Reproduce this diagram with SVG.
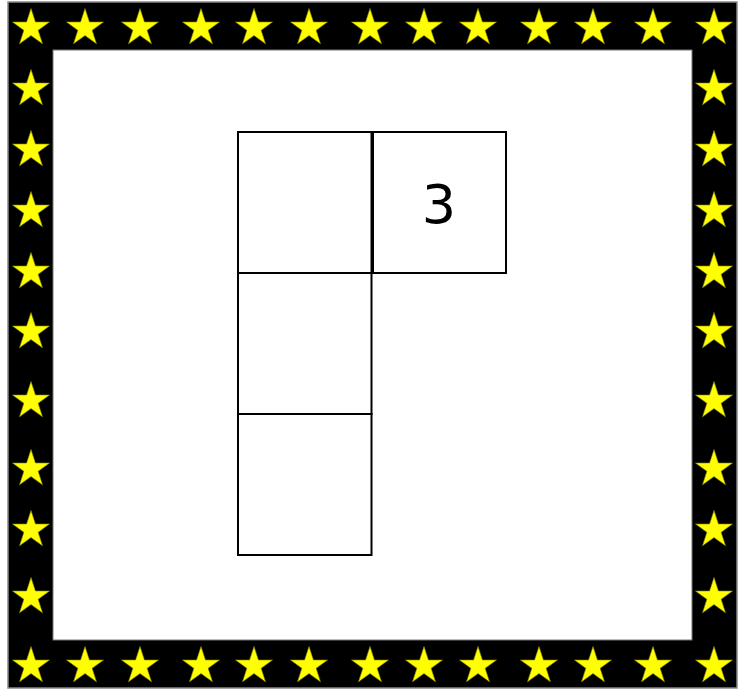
<svg xmlns="http://www.w3.org/2000/svg" xmlns:xlink="http://www.w3.org/1999/xlink" width="748" height="690" viewBox="0 0 748 690">
<style>
.box{fill:#fff;stroke:#000;stroke-width:2}
.num{font-family:"DejaVu Sans",sans-serif;font-size:54px;fill:#000;text-anchor:middle}
.st{fill:#ffff00;stroke:#8a8a00;stroke-width:0.6}
</style>
<defs>
<polygon id="star" class="st" points="0,-19.5 4.4,-6 18.5,-6 7.1,2.3 11.5,15.8 0,7.5 -11.5,15.8 -7.1,2.3 -18.5,-6 -4.4,-6"/>
</defs>
<rect width="748" height="690" fill="#fff"/>
<g id="frame">
<rect x="8" y="2" width="729" height="686" fill="#000" stroke="#888" stroke-width="1.5"/>
<rect x="53" y="50" width="639" height="590" fill="#fff" stroke="#777" stroke-width="1"/>
</g>
<g id="stars">
<use xlink:href="#star" x="31" y="28"/><use xlink:href="#star" x="85" y="28"/><use xlink:href="#star" x="140" y="28"/><use xlink:href="#star" x="201" y="28"/><use xlink:href="#star" x="254" y="28"/><use xlink:href="#star" x="309" y="28"/><use xlink:href="#star" x="370" y="28"/><use xlink:href="#star" x="424" y="28"/><use xlink:href="#star" x="478" y="28"/><use xlink:href="#star" x="539" y="28"/><use xlink:href="#star" x="593" y="28"/><use xlink:href="#star" x="653" y="28"/><use xlink:href="#star" x="714" y="28"/>
<use xlink:href="#star" x="31" y="666"/><use xlink:href="#star" x="85" y="666"/><use xlink:href="#star" x="140" y="666"/><use xlink:href="#star" x="201" y="666"/><use xlink:href="#star" x="254" y="666"/><use xlink:href="#star" x="309" y="666"/><use xlink:href="#star" x="370" y="666"/><use xlink:href="#star" x="424" y="666"/><use xlink:href="#star" x="478" y="666"/><use xlink:href="#star" x="539" y="666"/><use xlink:href="#star" x="593" y="666"/><use xlink:href="#star" x="653" y="666"/><use xlink:href="#star" x="714" y="666"/>
<use xlink:href="#star" x="31" y="89"/><use xlink:href="#star" x="31" y="150"/><use xlink:href="#star" x="31" y="211"/><use xlink:href="#star" x="31" y="272"/><use xlink:href="#star" x="31" y="332"/><use xlink:href="#star" x="31" y="401"/><use xlink:href="#star" x="31" y="469"/><use xlink:href="#star" x="31" y="530"/><use xlink:href="#star" x="31" y="597"/>
<use xlink:href="#star" x="714" y="89"/><use xlink:href="#star" x="714" y="150"/><use xlink:href="#star" x="714" y="211"/><use xlink:href="#star" x="714" y="272"/><use xlink:href="#star" x="714" y="332"/><use xlink:href="#star" x="714" y="401"/><use xlink:href="#star" x="714" y="469"/><use xlink:href="#star" x="714" y="530"/><use xlink:href="#star" x="714" y="597"/>
</g>
<g id="box1"><rect class="box" x="238" y="132" width="133.5" height="141"/></g>
<g id="box2"><rect class="box" x="373" y="132" width="133" height="141"/><text class="num" x="439" y="223">3</text></g>
<g id="box3"><rect class="box" x="238" y="273" width="133.5" height="141"/></g>
<g id="box4"><rect class="box" x="238" y="414" width="133.5" height="141"/></g>
<g id="connectors"></g>
</svg>
